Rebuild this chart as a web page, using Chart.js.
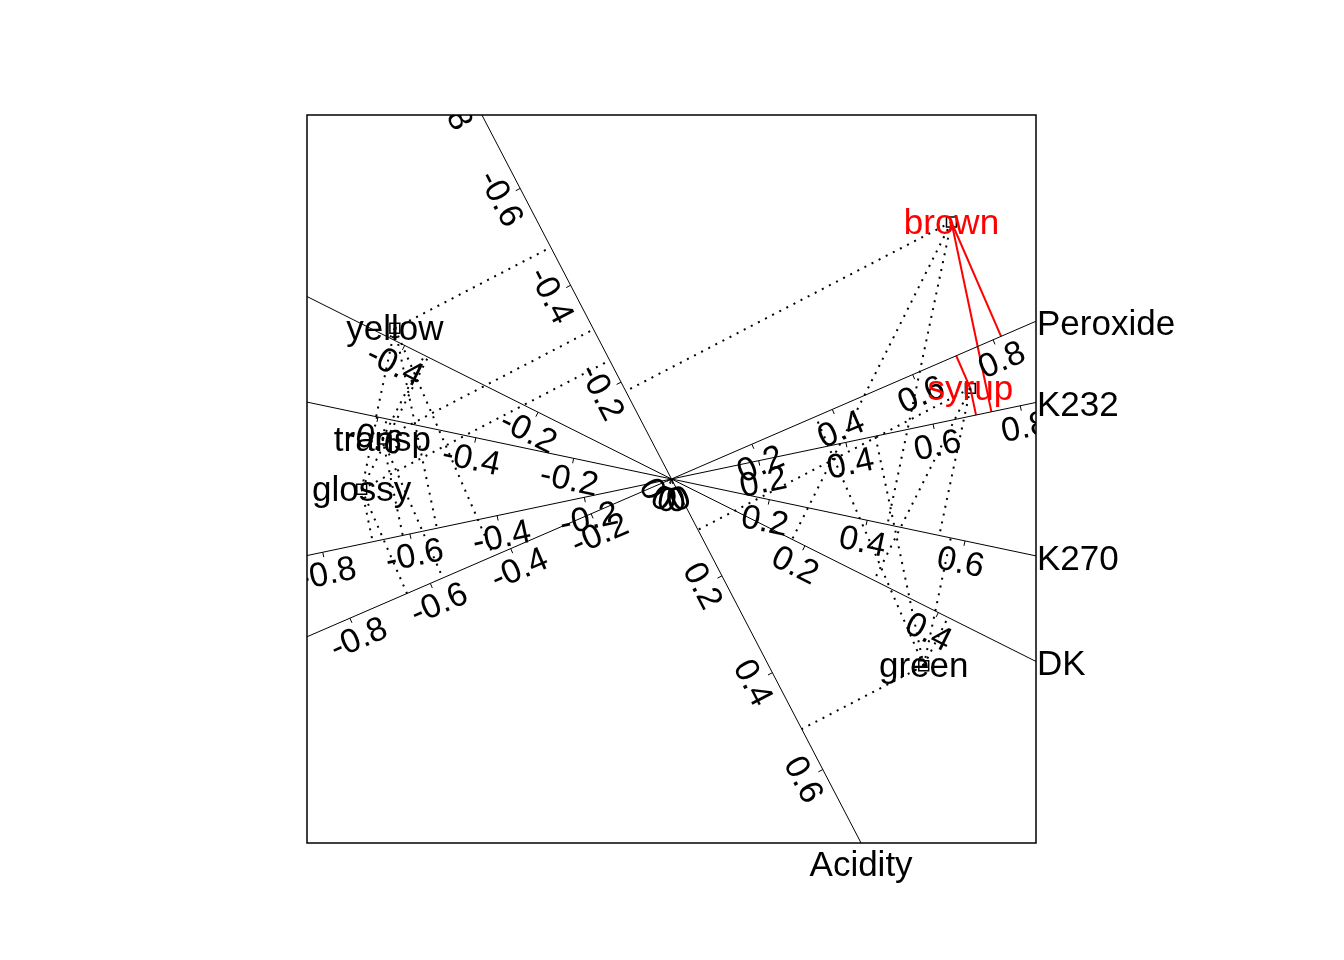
<!DOCTYPE html>
<html>
<head>
<meta charset="utf-8">
<script src="https://cdn.jsdelivr.net/npm/chart.js@4/dist/chart.umd.min.js"></script>
<style>
  html, body { margin: 0; padding: 0; background: #fff; }
</style>
</head>
<body>
<canvas id="biplot" width="1344" height="960"></canvas>
<script>
// Variables (calibrated axes) and their loadings
const variables = ['Acidity', 'Peroxide', 'K232', 'K270', 'DK'];
const loadX = [0.3077, 0.7634, 0.8007, 0.7133, 0.4367];
const loadY = [-0.5916, 0.3309, 0.1684, -0.1507, -0.2189];

// Samples (row markers)
const samples = ['brown', 'syrup', 'yellow', 'transp', 'glossy', 'green'];
const sampleX = [0.768, 0.820, -0.759, -0.793, -0.850, 0.692];
const sampleY = [0.706, 0.249, 0.414, 0.110, -0.028, -0.513];

// Samples and variables highlighted in red
const redSamples = ['brown', 'syrup'];
const redVariables = ['Peroxide', 'K232'];

// Calibration values on each axis
const tickValues = [-0.8, -0.6, -0.4, -0.2, 0, 0.2, 0.4, 0.6, 0.8];

const FONT = '"Liberation Sans", Arial, sans-serif';

// Position of calibration value 1 on axis i
function unitMarker(i) {
  const d = loadX[i] * loadX[i] + loadY[i] * loadY[i];
  return { x: loadX[i] / d, y: loadY[i] / d };
}

// Extent of axis i inside the [-1,1] box
function axisReach(i) {
  const w = unitMarker(i);
  return Math.min(1 / Math.abs(w.x), 1 / Math.abs(w.y));
}

const datasets = [];

// Axis lines
variables.forEach((v, i) => {
  const w = unitMarker(i);
  const t = axisReach(i);
  datasets.push({
    type: 'line',
    data: [{ x: -t * w.x, y: -t * w.y }, { x: t * w.x, y: t * w.y }],
    borderColor: '#000',
    borderWidth: 1,
    pointRadius: 0
  });
});

// Projections of each sample onto each axis
const redLines = [];
samples.forEach((s, j) => {
  variables.forEach((v, i) => {
    const w = unitMarker(i);
    const k = (sampleX[j] * w.x + sampleY[j] * w.y) / (w.x * w.x + w.y * w.y);
    const data = [{ x: sampleX[j], y: sampleY[j] }, { x: k * w.x, y: k * w.y }];
    if (redSamples.includes(s) && redVariables.includes(v)) {
      redLines.push({ type: 'line', data, borderColor: '#ff0000', borderWidth: 2, pointRadius: 0 });
    } else {
      datasets.push({ type: 'line', data, borderColor: '#000', borderWidth: 2, borderDash: [2, 6], pointRadius: 0 });
    }
  });
});
redLines.forEach(d => datasets.push(d));

// Sample markers
datasets.push({
  type: 'scatter',
  data: samples.map((s, j) => ({ x: sampleX[j], y: sampleY[j] })),
  pointStyle: 'rect',
  pointRadius: 7,
  borderColor: '#000',
  backgroundColor: 'rgba(0,0,0,0)',
  borderWidth: 1.5
});

// Calibration ticks, tick labels, names and the box
const biplotPlugin = {
  id: 'biplot',
  afterDatasetsDraw(chart) {
    const ctx = chart.ctx;
    const area = chart.chartArea;
    const xs = chart.scales.x, ys = chart.scales.y;
    const ox = xs.getPixelForValue(0), oy = ys.getPixelForValue(0);

    ctx.save();
    ctx.beginPath();
    ctx.rect(area.left, area.top, area.right - area.left, area.bottom - area.top);
    ctx.clip();
    variables.forEach((v, i) => {
      const w = unitMarker(i);
      let dx = xs.getPixelForValue(w.x) - ox;
      let dy = ys.getPixelForValue(w.y) - oy;
      const len = Math.hypot(dx, dy);
      dx /= len; dy /= len;
      const sx = -dy, sy = dx;
      const angle = Math.atan2(dy, dx);
      tickValues.forEach(m => {
        const x = xs.getPixelForValue(m * w.x);
        const y = ys.getPixelForValue(m * w.y);
        ctx.strokeStyle = '#000';
        ctx.lineWidth = 1;
        ctx.beginPath();
        ctx.moveTo(x, y);
        ctx.lineTo(x + sx * 5, y + sy * 5);
        ctx.stroke();
        ctx.save();
        ctx.translate(x + sx * 23, y + sy * 23);
        ctx.rotate(angle);
        ctx.font = '34px ' + FONT;
        ctx.fillStyle = '#000';
        ctx.textAlign = 'center';
        ctx.textBaseline = 'middle';
        ctx.fillText(m === 0 ? '0' : m.toFixed(1), 0, 0);
        ctx.restore();
      });
    });
    ctx.restore();

    // Sample labels
    ctx.save();
    ctx.font = '35px ' + FONT;
    ctx.textAlign = 'center';
    ctx.textBaseline = 'middle';
    samples.forEach((s, j) => {
      ctx.fillStyle = redSamples.includes(s) ? '#ff0000' : '#000';
      ctx.fillText(s, xs.getPixelForValue(sampleX[j]), ys.getPixelForValue(sampleY[j]) + 2);
    });

    // Axis names at the positive end
    ctx.fillStyle = '#000';
    variables.forEach((v, i) => {
      const w = unitMarker(i);
      const t = axisReach(i);
      const x = xs.getPixelForValue(t * w.x);
      const y = ys.getPixelForValue(t * w.y);
      if (1 / Math.abs(w.x) <= 1 / Math.abs(w.y)) {
        ctx.textAlign = 'left';
        ctx.textBaseline = 'middle';
        ctx.fillText(v, x + 1, y + 4);
      } else {
        ctx.textAlign = 'center';
        ctx.textBaseline = 'top';
        ctx.fillText(v, x, y + 6);
      }
    });

    // Plot box
    ctx.strokeStyle = '#000';
    ctx.lineWidth = 1.5;
    ctx.strokeRect(area.left, area.top, area.right - area.left, area.bottom - area.top);
    ctx.restore();
  }
};

new Chart(document.getElementById('biplot'), {
  type: 'scatter',
  data: { datasets },
  options: {
    responsive: false,
    animation: false,
    devicePixelRatio: 1,
    layout: { padding: { left: 307, top: 115, right: 308, bottom: 117 } },
    scales: {
      x: { type: 'linear', min: -1, max: 1, display: false },
      y: { type: 'linear', min: -1, max: 1, display: false }
    },
    plugins: { legend: { display: false }, tooltip: { enabled: false } }
  },
  plugins: [biplotPlugin]
});
</script>
</body>
</html>
